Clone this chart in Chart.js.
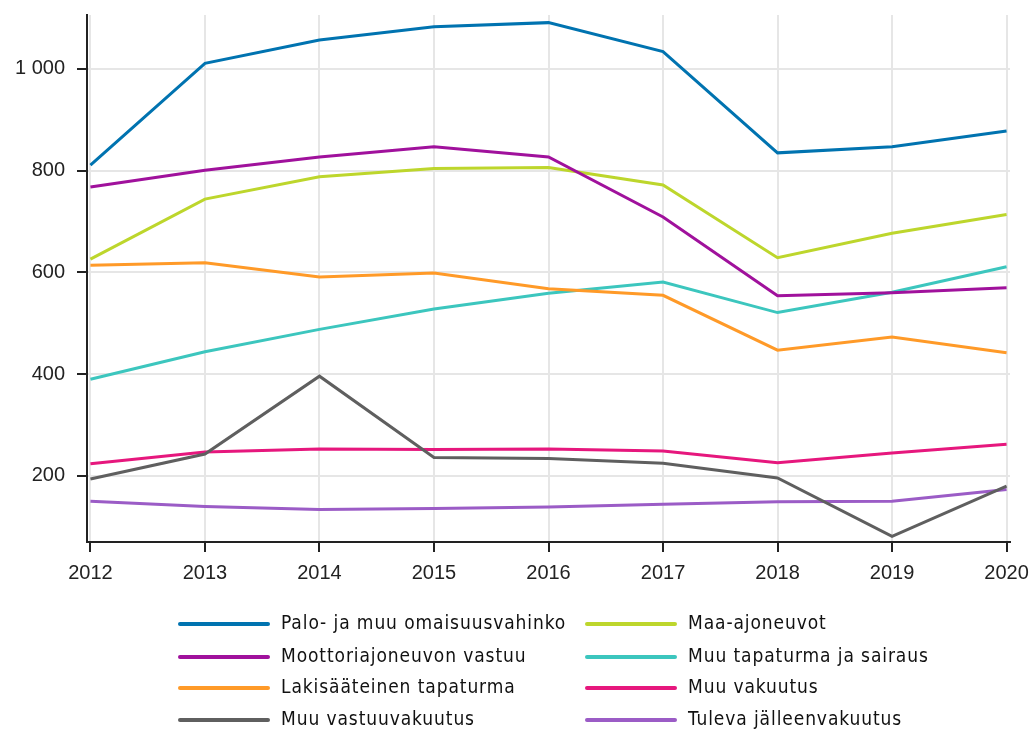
<!DOCTYPE html>
<html>
<head>
<meta charset="utf-8">
<script src="https://cdn.jsdelivr.net/npm/chart.js@4"></script>
<style>
  html, body { margin: 0; padding: 0; background: #fff; }
  #wrap { width: 1034px; height: 731px; position: relative; }
</style>
</head>
<body>
<div id="wrap"><canvas id="myChart" width="1034" height="731"></canvas></div>
<script>
const years = [2012, 2013, 2014, 2015, 2016, 2017, 2018, 2019, 2020];
const yTicks = [200, 400, 600, 800, 1000];

// series values
const palo = [811, 1011, 1057, 1083, 1091, 1034, 835, 847, 878];
const moottori = [768, 801, 827, 847, 827, 709, 554, 560, 570];
const lakisaat = [614, 619, 591, 599, 568, 555, 447, 473, 442];
const muuVastuu = [194, 243, 396, 236, 234, 225, 196, 81, 180];
const maaAjo = [626, 744, 788, 804, 806, 772, 629, 677, 714];
const muuTapaturma = [390, 444, 488, 528, 559, 581, 521, 561, 611];
const muuVakuutus = [224, 247, 253, 252, 253, 249, 226, 245, 262];
const tuleva = [150, 140, 134, 136, 139, 144, 149, 150, 173];

const names = [
  'Palo- ja muu omaisuusvahinko', 'Moottoriajoneuvon vastuu', 'Lakisääteinen tapaturma', 'Muu vastuuvakuutus',
  'Maa-ajoneuvot', 'Muu tapaturma ja sairaus', 'Muu vakuutus', 'Tuleva jälleenvakuutus'
];
const series = [palo, moottori, lakisaat, muuVastuu, maaAjo, muuTapaturma, muuVakuutus, tuleva];
const colors = ['#0073b0', '#a0119c', '#ff9a28', '#5f5f5f', '#bdd62c', '#3cc6be', '#e6177d', '#9b5cc6'];

const legendFont = '19px "DejaVu Sans Condensed", "DejaVu Sans", sans-serif';

// legend in two columns under the chart
const legendPlugin = {
  id: 'twoColLegend',
  afterDraw(chart) {
    const c = chart.ctx;
    c.save();
    c.font = legendFont;
    c.letterSpacing = '0.9px';
    c.textBaseline = 'middle';
    c.fillStyle = '#111';
    const rows = [624, 657, 688, 720];
    const cols = [180, 587];
    chart.data.datasets.forEach((ds, i) => {
      const col = Math.floor(i / 4), row = i % 4;
      const x = cols[col], y = rows[row];
      c.strokeStyle = ds.borderColor;
      c.lineWidth = 4;
      c.lineCap = 'round';
      c.beginPath();
      c.moveTo(x, y);
      c.lineTo(x + 88, y);
      c.stroke();
      c.fillText(ds.label, x + 101, y);
    });
    c.restore();
  }
};

function noEdgePad(scale) {
  scale.paddingTop = 0;
  scale.paddingBottom = 0;
  scale.paddingLeft = 0;
  scale.paddingRight = 0;
}

const ctx = document.getElementById('myChart').getContext('2d');
const myChart = new Chart(ctx, {
  type: 'line',
  data: {
    datasets: series.map((vals, i) => ({
      label: names[i],
      data: vals.map((v, j) => ({ x: years[j], y: v })),
      borderColor: colors[i],
      backgroundColor: colors[i],
      borderWidth: 3,
      pointRadius: 0,
      tension: 0
    }))
  },
  options: {
    responsive: false,
    animation: false,
    layout: { padding: { left: 0, top: 15, right: 24, bottom: 129 } },
    plugins: { legend: { display: false }, tooltip: { enabled: false } },
    scales: {
      x: {
        type: 'linear',
        min: 2011.97,
        max: 2020.03,
        afterFit(scale) { scale.height = 60; noEdgePad(scale); },
        afterBuildTicks(scale) { scale.ticks = years.map(v => ({ value: v })); },
        ticks: {
          includeBounds: false,
          stepSize: 1,
          color: '#222',
          padding: 9,
          maxRotation: 0,
          font: { family: '"Liberation Sans", Arial, sans-serif', size: 20 },
          callback: v => String(v)
        },
        grid: { color: '#e6e6e6', lineWidth: 2, tickColor: '#222', tickLength: 10, tickWidth: 2 },
        border: { color: '#222', width: 2 }
      },
      y: {
        min: 70,
        max: 1106,
        afterFit(scale) { scale.width = 87; noEdgePad(scale); },
        afterBuildTicks(scale) { scale.ticks = yTicks.map(v => ({ value: v })); },
        ticks: {
          includeBounds: false,
          color: '#222',
          padding: 12,
          font: { family: '"Liberation Sans", Arial, sans-serif', size: 20 },
          callback: v => v >= 1000 ? String(v).replace(/\B(?=(\d{3})+(?!\d))/g, ' ') : String(v)
        },
        grid: { color: '#e6e6e6', lineWidth: 2, tickColor: '#222', tickLength: 10, tickWidth: 2 },
        border: { color: '#222', width: 2 }
      }
    }
  },
  plugins: [legendPlugin]
});
</script>
</body>
</html>
